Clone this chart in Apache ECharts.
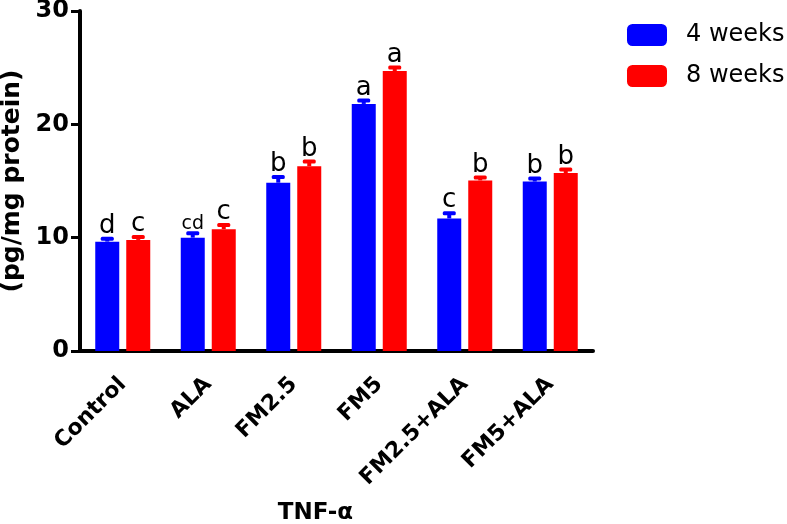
<!DOCTYPE html>
<html>
<head>
<meta charset="utf-8">
<script src="https://cdn.jsdelivr.net/npm/echarts@6/dist/echarts.min.js"></script>
<style>
  html, body { margin: 0; padding: 0; background: #fff; }
  #chart { width: 787px; height: 524px; }
</style>
</head>
<body>
<div id="chart"></div>
<script>
const categories = ['Control', 'ALA', 'FM2.5', 'FM5', 'FM2.5+ALA', 'FM5+ALA'];
const weeks4 = [9.65, 10.0, 14.85, 21.8, 11.7, 14.95];
const weeks4Err = [0.35, 0.47, 0.6, 0.4, 0.55, 0.35];
const weeks8 = [9.8, 10.75, 16.3, 24.7, 15.05, 15.7];
const weeks8Err = [0.35, 0.45, 0.5, 0.4, 0.35, 0.4];
const letters4 = ['d', 'cd', 'b', 'a', 'c', 'b'];
const letters8 = ['c', 'c', 'b', 'a', 'b', 'b'];
const yTicks = [0, 10, 20, 30];

const FONT = 'DejaVu Sans';
const BAR_W = 24;
const BAR_GAP = 7;

const errorBars = (name, means, errs, letters, color, side) => ({
  name: name,
  type: 'custom',
  z: 3,
  data: means.map((v, i) => [i, v, errs[i]]),
  renderItem(params, api) {
    const i = api.value(0);
    const top = api.coord([i, api.value(1)]);
    const cap = api.coord([i, api.value(1) + api.value(2)]);
    const x = top[0] + side * (BAR_W + BAR_GAP) / 2;
    const letter = letters[params.dataIndex];
    return {
      type: 'group',
      children: [
        {
          type: 'rect',
          shape: { x: x - 2, y: cap[1], width: 4, height: top[1] - cap[1] },
          style: { fill: color }
        },
        {
          type: 'rect',
          shape: { x: x - 6.5, y: cap[1] - 1, width: 13, height: 4, r: 1.5 },
          style: { fill: color }
        },
        {
          type: 'text',
          style: {
            text: letter,
            x: x,
            y: cap[1] + 1.5,
            align: 'center',
            verticalAlign: 'bottom',
            fontFamily: FONT,
            fontSize: letter.length > 1 ? 19 : 26,
            fill: '#000'
          }
        }
      ]
    };
  }
});

const chart = echarts.init(document.getElementById('chart'));

chart.setOption({
  animation: false,
  textStyle: { fontFamily: FONT },
  grid: { left: 80, right: 194, top: 11, bottom: 173, containLabel: false, outerBoundsMode: 'none' },
  legend: {
    data: ['4 weeks', '8 weeks'],
    orient: 'vertical',
    left: 622,
    top: 18,
    itemWidth: 40,
    itemHeight: 22,
    itemGap: 17,
    icon: 'roundRect',
    textStyle: { fontFamily: FONT, fontSize: 24, color: '#000', padding: [0, 0, 0, 14] }
  },
  xAxis: {
    type: 'category',
    data: categories,
    name: 'TNF-α',
    nameLocation: 'middle',
    nameGap: 151,
    nameTextStyle: { fontFamily: FONT, fontWeight: 'bold', fontSize: 23, color: '#000', padding: [0, 42, 0, 0] },
    axisLine: { lineStyle: { color: '#000', width: 4 } },
    axisTick: { alignWithLabel: true, length: 9, lineStyle: { color: '#000', width: 3 } },
    axisLabel: {
      rotate: 45,
      margin: 30,
      interval: 0,
      fontFamily: FONT,
      fontWeight: 'bold',
      fontSize: 22,
      color: '#000'
    }
  },
  yAxis: {
    type: 'value',
    min: yTicks[0],
    max: yTicks[yTicks.length - 1],
    interval: 10,
    name: '(pg/mg protein)',
    nameLocation: 'middle',
    nameGap: 52,
    nameTextStyle: { fontFamily: FONT, fontWeight: 'bold', fontSize: 25, color: '#000' },
    splitLine: { show: false },
    axisLine: { show: true, lineStyle: { color: '#000', width: 4 } },
    axisTick: { show: true, length: 9, lineStyle: { color: '#000', width: 3 } },
    axisLabel: { margin: 11, fontFamily: FONT, fontWeight: 'bold', fontSize: 24, color: '#000' }
  },
  series: [
    {
      name: '4 weeks',
      type: 'bar',
      barWidth: BAR_W,
      barGap: (BAR_GAP / BAR_W * 100) + '%',
      itemStyle: { color: '#0000ff' },
      data: weeks4
    },
    {
      name: '8 weeks',
      type: 'bar',
      barWidth: BAR_W,
      barGap: (BAR_GAP / BAR_W * 100) + '%',
      itemStyle: { color: '#ff0000' },
      data: weeks8
    },
    errorBars('4 weeks err', weeks4, weeks4Err, letters4, '#0000ff', -1),
    errorBars('8 weeks err', weeks8, weeks8Err, letters8, '#ff0000', 1)
  ]
});
</script>
</body>
</html>
